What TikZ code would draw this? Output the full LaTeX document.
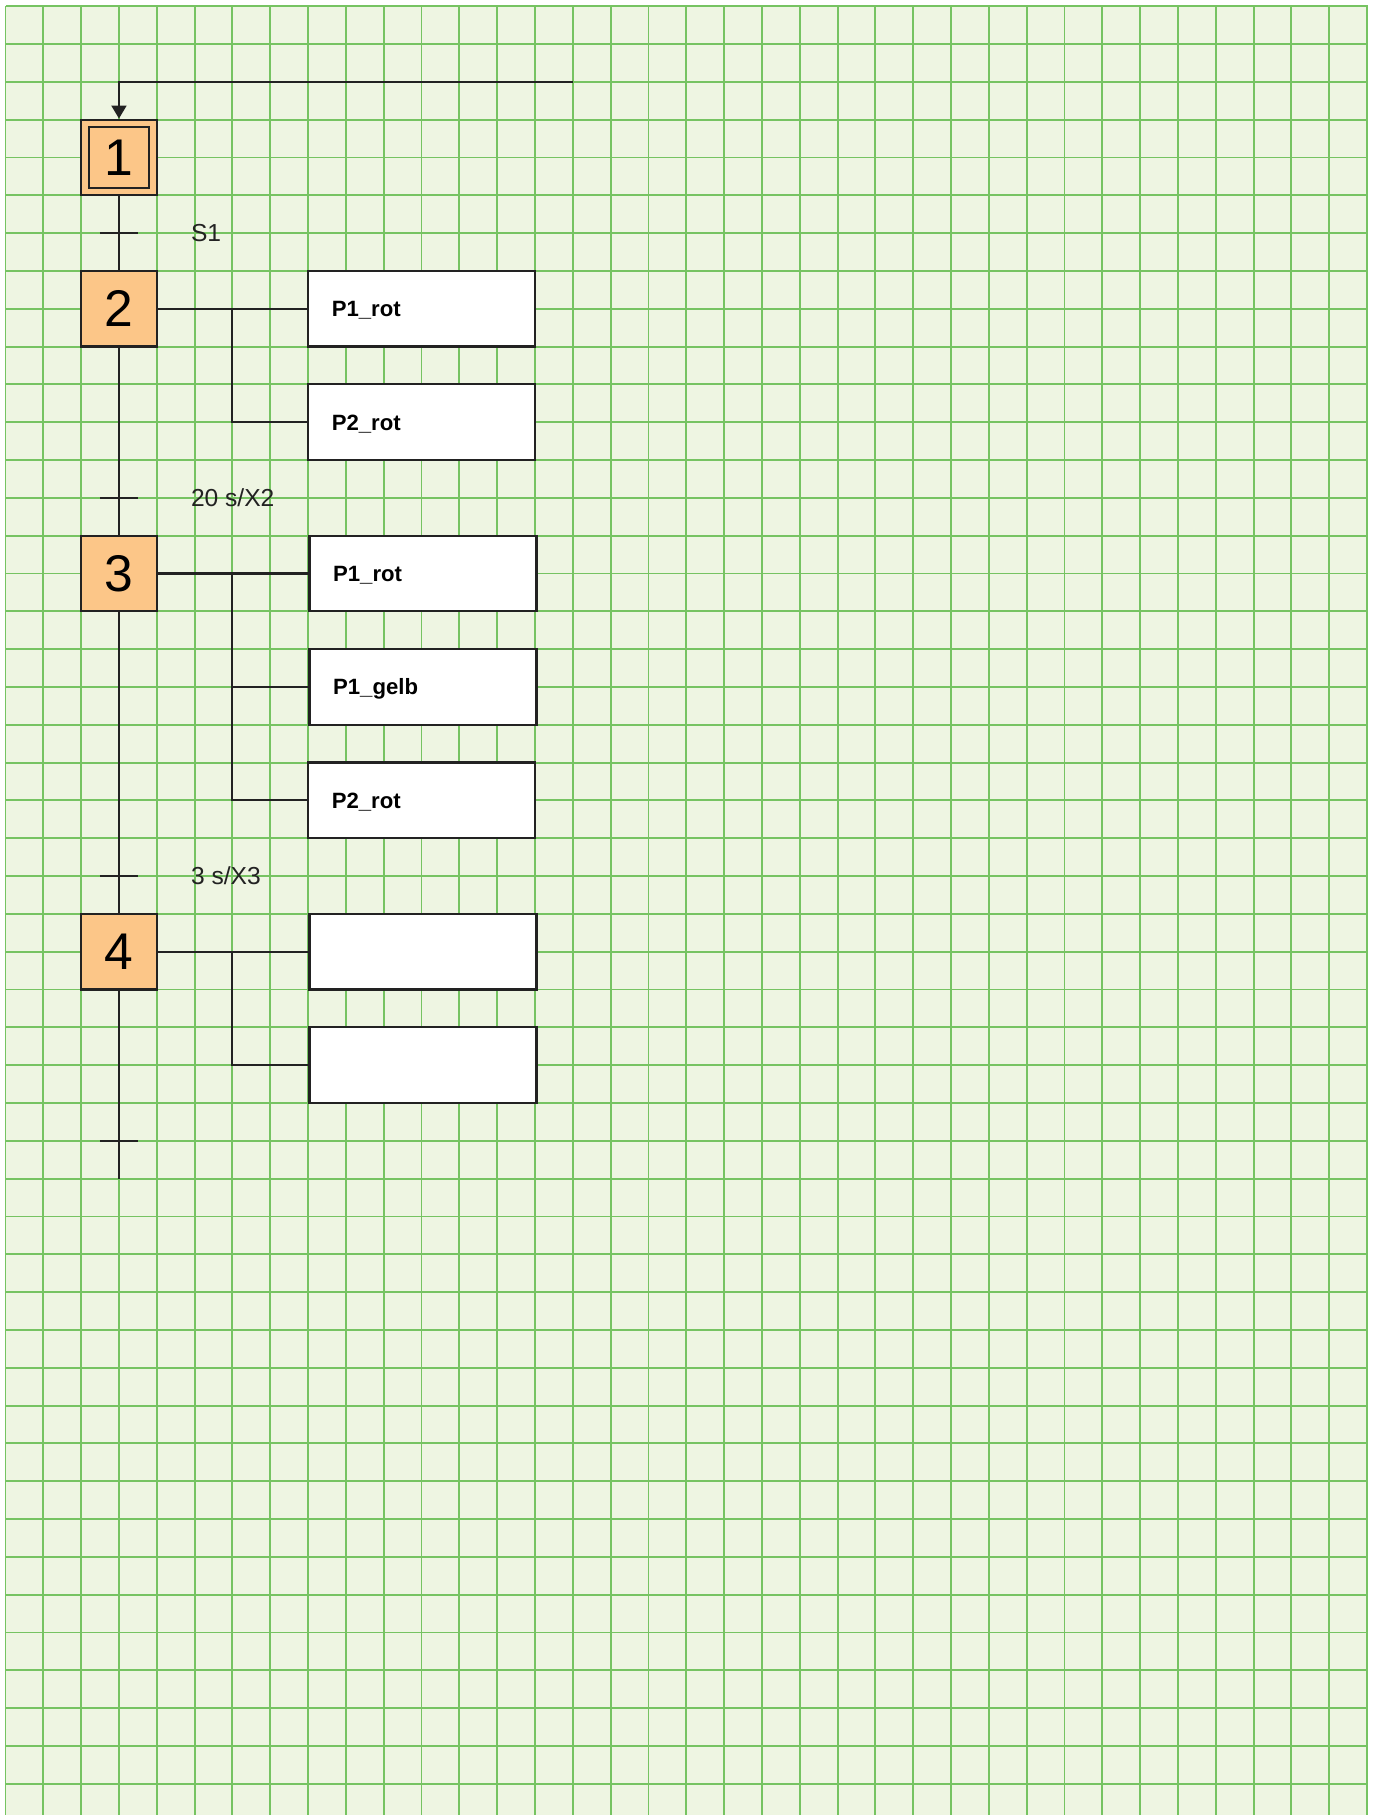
\documentclass[tikz,border=0pt]{standalone}
\usepackage{fontspec}
\setmainfont{Liberation Sans}
\usetikzlibrary{arrows.meta}
\definecolor{bgc}{RGB}{238,245,226}
\definecolor{gridc}{RGB}{118,195,98}
\definecolor{stepc}{RGB}{252,198,136}
\definecolor{linec}{RGB}{34,34,34}
\begin{document}
\begin{tikzpicture}[x=0.1mm,y=-0.1mm,
  gridline/.style={draw=gridc,line width=0.19mm},
  conn/.style={draw=linec,line width=0.21mm},
  stepbox/.style={draw=linec,fill=stepc,line width=0.22mm,minimum width=7.564mm,minimum height=7.564mm,inner sep=0pt,
    text depth=0pt,font=\fontsize{14.68pt}{14.68pt}\selectfont},
  actbox/.style={draw=linec,fill=white,line width=0.22mm,minimum width=22.69mm,minimum height=7.564mm,
    inner xsep=2.36mm,inner ysep=0pt,text width=17.97mm,align=left,text height=1.575mm,text depth=0pt,
    font=\fontsize{6.3pt}{7pt}\selectfont\bfseries},
  translabel/.style={anchor=base west,inner sep=0pt,font=\fontsize{7pt}{8pt}\selectfont,text=linec}
]
\useasboundingbox (0,0) rectangle (1375,1815);
\fill[bgc] (5.5,6.2) rectangle (1368,1815);
\foreach \k in {0,...,36} \draw[gridline] ({5.5+37.82*\k},6.2) -- ({5.5+37.82*\k},1815);
\foreach \k in {0,...,47} \draw[gridline] (5.5,{6.2+37.82*\k}) -- (1368,{6.2+37.82*\k});

% steps
\node[stepbox] (s1) at (118.96,157.48) {1};
\draw[linec,line width=0.2mm] ([xshift=0.85mm,yshift=-0.85mm]s1.north west) rectangle ([xshift=-0.85mm,yshift=0.85mm]s1.south east);
\node[stepbox] (s2) at (118.96,308.76) {2};
\node[stepbox] (s3) at (118.96,573.5) {3};
\node[stepbox] (s4) at (118.96,951.7) {4};

% actions
\node[actbox] (a21) at (421.6,308.76) {P1\_rot};
\node[actbox] (a22) at (421.6,422.2) {P2\_rot};
\node[actbox] (a31) at (423,573.5) {P1\_rot};
\node[actbox] (a32) at (423,686.96) {P1\_gelb};
\node[actbox] (a33) at (421.6,800.4) {P2\_rot};
\node[actbox] (a41) at (423,951.7) {};
\node[actbox] (a42) at (423,1065.2) {};

% coordinates
\coordinate (top) at (572.8,81.8);
\coordinate (t1) at (118.96,233.1);
\coordinate (t2) at (118.96,497.9);
\coordinate (t3) at (118.96,876.1);
\coordinate (t4) at (118.96,1140.8);
\coordinate (bot) at (118.96,1178.6);
\coordinate (b2) at (232.4,308.76);
\coordinate (b3) at (232.4,573.5);
\coordinate (b4) at (232.4,951.7);

% main flow
\draw[conn,-{Triangle[width=1.5mm,length=1.3mm]}] (top) -| (s1.north);
\draw[conn] (s1.south) -- (s2.north);
\draw[conn] (s2.south) -- (s3.north);
\draw[conn] (s3.south) -- (s4.north);
\draw[conn] (s4.south) -- (bot);

% transitions
\foreach \t in {t1,t2,t3,t4} \draw[conn] ([xshift=-1.9mm]\t) -- ([xshift=1.9mm]\t);
\node[translabel] (l1) at (190.3,241.9) {S1};
\node[translabel] (l2) at (190.3,506.7) {20 s/X2};
\node[translabel] (l3) at (190.3,884.9) {3 s/X3};

% action links
\draw[conn] (s2.east) -- (a21.west);
\draw[conn] (b2) |- (a22.west);
\draw[conn] (s3.east) -- (a31.west);
\draw[conn] (b3) |- (a32.west);
\draw[conn] (b3) |- (a33.west);
\draw[conn] (s4.east) -- (a41.west);
\draw[conn] (b4) |- (a42.west);
\end{tikzpicture}
\end{document}
